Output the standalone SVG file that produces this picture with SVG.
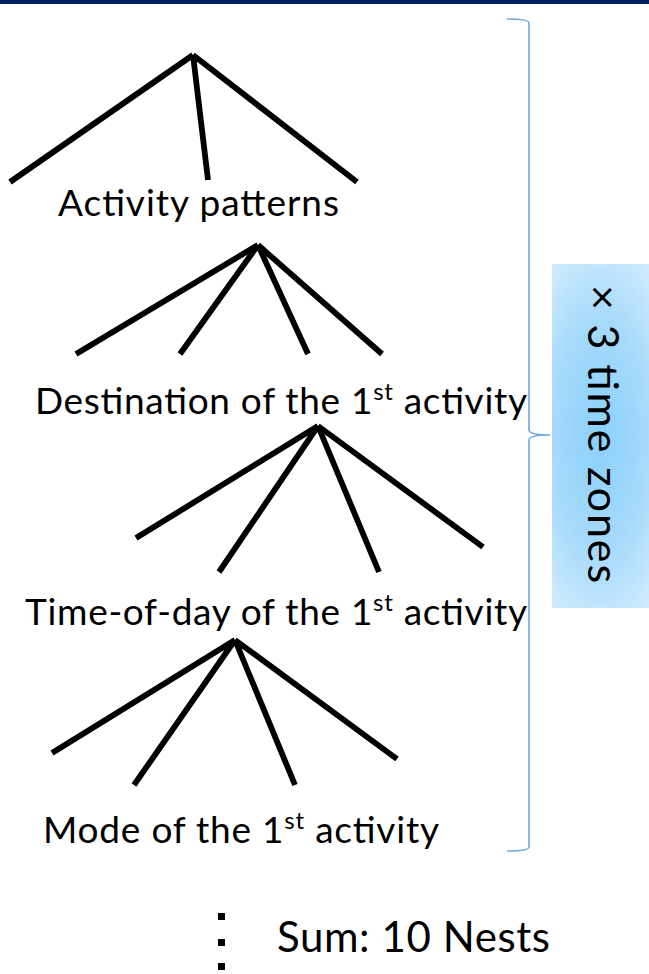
<svg xmlns="http://www.w3.org/2000/svg" width="649" height="974" viewBox="0 0 649 974">
  <style>
    .lbl { font-family: Lato, "Open Sans", "Liberation Sans", sans-serif; font-size: 37px; fill: #000; }
    .sup { font-size: 24px; }
    .side { font-size: 43px; }
    .sum { font-size: 42px; }
    .branch { stroke: #000; stroke-width: 5.8; fill: none; stroke-linecap: butt; }
    .brace { stroke: #6fa8dc; stroke-width: 1.6; fill: none; }
  </style>
  <defs>
    <radialGradient id="boxGrad" gradientUnits="userSpaceOnUse" cx="0" cy="0" r="1" gradientTransform="translate(600 436) scale(95 230)">
      <stop offset="0" stop-color="#8ad0fb"/>
      <stop offset="0.5" stop-color="#a6dafb"/>
      <stop offset="1" stop-color="#dbf0fd"/>
    </radialGradient>
  </defs>
  <rect width="649" height="974" fill="#fff"/>
  <rect id="topbar" x="0" y="0" width="649" height="4" fill="#002060"/>

  <g id="connectors">
    <g id="tree1">
      <path class="branch" d="M193,55 L10,182 M193,55 L208,180 M193,55 L357,182"/>
    </g>
    <g id="tree2">
      <path class="branch" d="M258,245 L76,354 M258,245 L180,354 M258,245 L308,354 M258,245 L382,354"/>
    </g>
    <g id="tree3">
      <path class="branch" d="M318,426 L136,538 M318,426 L219,572 M318,426 L379,572 M318,426 L483,547"/>
    </g>
    <g id="tree4">
      <path class="branch" d="M235,640 L52,753 M235,640 L134,785 M235,640 L295,785 M235,640 L397,759"/>
    </g>
    <path id="brace" class="brace" d="M507,19 C520,19 529,20 529,23 L529,430 C529,433 535,435 550,435 C535,435 529,437 529,440 L529,847 C529,850 520,851 507,851"/>
  </g>

  <g id="node-activity-patterns">
    <text class="lbl" x="58" y="216" textLength="281" lengthAdjust="spacing">Activity patterns</text>
  </g>
  <g id="node-destination">
    <text class="lbl" x="35" y="414" textLength="492" lengthAdjust="spacing">Destination of the 1<tspan class="sup" dy="-14">st</tspan><tspan dy="14"> activity</tspan></text>
  </g>
  <g id="node-time-of-day">
    <text class="lbl" x="25" y="625" textLength="502" lengthAdjust="spacing">Time-of-day of the 1<tspan class="sup" dy="-14">st</tspan><tspan dy="14"> activity</tspan></text>
  </g>
  <g id="node-mode">
    <text class="lbl" x="43" y="843" textLength="396" lengthAdjust="spacing">Mode of the 1<tspan class="sup" dy="-14">st</tspan><tspan dy="14"> activity</tspan></text>
  </g>

  <g id="node-time-zones">
    <rect x="552" y="264" width="97" height="344" fill="url(#boxGrad)"/>
    <text class="lbl side" transform="translate(588 285) rotate(90)" x="0" y="0" textLength="298" lengthAdjust="spacing">× 3 time zones</text>
  </g>

  <g id="node-sum">
    <rect x="218" y="913" width="7" height="7" fill="#000"/>
    <rect x="218" y="939" width="7" height="7" fill="#000"/>
    <rect x="218" y="963" width="7" height="7" fill="#000"/>
    <text class="lbl sum" x="277" y="952" textLength="273" lengthAdjust="spacing">Sum: 10 Nests</text>
  </g>
</svg>
